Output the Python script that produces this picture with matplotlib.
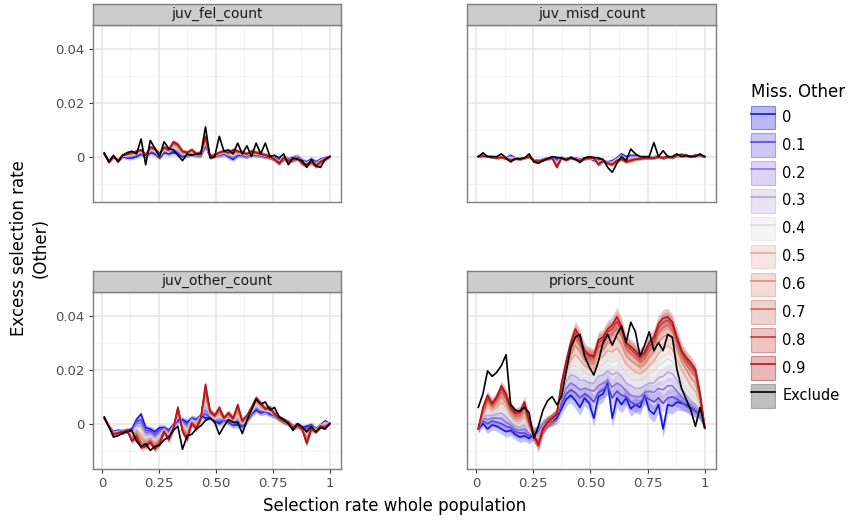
import numpy as np
import matplotlib.pyplot as plt
from matplotlib.patches import Patch
from matplotlib.lines import Line2D
from matplotlib.colors import to_rgba

# x grid: selection rate of whole population
sel_rate = np.linspace(0.01, 1.0, 50)

levels = ['0', '0.1', '0.2', '0.3', '0.4', '0.5', '0.6', '0.7', '0.8', '0.9', 'Exclude']
facets = ['juv_fel_count', 'juv_misd_count', 'juv_other_count', 'priors_count']

# all values below are excess selection rate in units of 1e-4

# --- juv_fel_count ---
fel_0 = [10, -15, 0, -15, 0, -5, -5, 0, 10, 0, 15, 10, -5, 15, 10, 15, 10, 0, 5, 10,
         5, 5, 40, 0, 5, 5, 10, 0, -10, 5, 5, 0, 10, 5, 5, 0, 0, -5, -15, -5,
         -10, -5, 0, -15, -20, -10, -20, -10, -5, 0]
fel_1 = [10, -16, 1, -14, 2, -2, -1, 4, 13, 2, 19, 14, -2, 19, 13, 22, 15, 3, 7, 12,
         5, 7, 45, 1, 5, 7, 12, 3, -6, 8, 6, 2, 12, 6, 6, 1, 0, -6, -17, -4,
         -11, -6, -1, -17, -22, -12, -23, -12, -6, 0]
fel_2 = [10, -17, 0, -15, 2, 0, 2, 6, 15, 2, 21, 17, 0, 22, 15, 27, 20, 6, 8, 14,
         6, 8, 50, 0, 6, 8, 13, 5, -2, 10, 8, 3, 13, 8, 7, 2, 1, -7, -18, -5,
         -12, -7, -1, -18, -23, -13, -25, -13, -7, 0]
fel_3 = [10, -17, 1, -15, 3, 2, 4, 9, 17, 3, 24, 19, 2, 24, 17, 32, 25, 8, 9, 16,
         7, 9, 54, 1, 5, 9, 14, 7, 2, 12, 9, 4, 14, 9, 8, 3, 1, -7, -19, -5,
         -12, -8, -2, -19, -24, -14, -27, -14, -7, 0]
fel_4 = [10, -18, 0, -15, 3, 4, 6, 11, 19, 3, 26, 21, 4, 26, 19, 36, 29, 11, 10, 18,
         8, 10, 58, 0, 6, 10, 15, 9, 6, 14, 10, 5, 15, 10, 8, 3, 1, -8, -20, -5,
         -13, -8, -2, -20, -25, -15, -28, -15, -8, 0]
fel_5 = [10, -18, 1, -15, 4, 5, 8, 13, 21, 4, 28, 23, 6, 28, 20, 41, 33, 13, 11, 20,
         8, 11, 62, 1, 5, 11, 16, 10, 10, 15, 11, 6, 16, 11, 9, 3, 1, -8, -21, -5,
         -13, -8, -3, -21, -26, -16, -30, -16, -8, 0]
fel_6 = [10, -19, 0, -15, 4, 7, 10, 15, 22, 4, 30, 25, 7, 30, 22, 45, 37, 15, 12, 21,
         9, 12, 66, 0, 5, 12, 17, 12, 14, 17, 12, 7, 17, 12, 9, 4, 0, -9, -22, -5,
         -14, -9, -3, -22, -27, -17, -31, -17, -9, 0]
fel_7 = [10, -19, 0, -15, 5, 8, 12, 17, 23, 5, 32, 27, 8, 32, 23, 49, 40, 17, 13, 23,
         9, 13, 70, 0, 5, 13, 18, 13, 18, 18, 13, 8, 18, 13, 10, 4, 0, -9, -23, -5,
         -14, -9, -4, -23, -28, -18, -33, -18, -9, 0]
fel_8 = [10, -20, 0, -15, 5, 9, 14, 18, 24, 5, 34, 28, 9, 34, 24, 52, 43, 18, 14, 24,
         10, 14, 72, 0, 5, 14, 19, 14, 22, 19, 14, 9, 19, 14, 10, 5, 0, -10, -24, -5,
         -15, -10, -4, -24, -29, -19, -34, -19, -10, 0]
fel_9 = [10, -20, 0, -15, 5, 10, 15, 20, 25, 5, 35, 30, 10, 35, 25, 55, 45, 20, 15, 25,
         10, 15, 75, 0, 5, 15, 20, 15, 25, 20, 15, 10, 20, 15, 10, 5, 0, -10, -25, -5,
         -15, -10, -5, -25, -30, -20, -35, -20, -10, 0]
fel_ex = [14, -20, 5, -20, 5, 15, 20, 10, 65, -30, 60, 30, 0, 55, 30, 25, 5, -15, 10, 5,
          10, 10, 110, -5, 0, 75, 20, 25, 10, 50, 10, 40, 0, 50, 10, 50, 0, 5, -5, 10,
          -30, -5, -10, -15, -40, -10, -35, -40, -10, 0]
se_fel = [5, 6, 6, 6, 6, 7, 7, 7, 8, 8, 8, 8, 8, 8, 8, 9, 9, 9, 9, 9,
          9, 9, 10, 9, 9, 9, 9, 9, 9, 9, 9, 9, 9, 9, 9, 9, 9, 9, 9, 9,
          10, 10, 10, 10, 10, 10, 9, 8, 7, 5]

# --- juv_misd_count ---
misd_0 = [0, 5, 0, 0, -3, 0, -5, 5, -5, -8, -5, 0, -12, -15, -10, -5, -3, -10, -3, -8,
          -3, -5, -10, -5, -3, -15, -10, -15, -20, -15, -5, 10, 0, 5, 3, 0, -3, -3, 0, 0,
          -3, 0, -3, 3, 3, 3, 0, 3, 3, 0]
misd_1 = [0, 4, 0, -1, -3, -1, -5, 2, -6, -8, -5, 0, -13, -16, -10, -6, -3, -14, -4, -9,
          -3, -6, -11, -6, -4, -13, -13, -15, -21, -17, -7, 7, -3, 2, 1, -1, -3, -4, -1, 0,
          -4, 0, -3, 3, 4, 3, 0, 3, 3, 0]
misd_2 = [0, 4, 0, -1, -4, -1, -6, 0, -6, -9, -5, 0, -13, -16, -11, -6, -4, -18, -4, -9,
          -4, -7, -12, -6, -4, -12, -16, -15, -22, -19, -8, 5, -5, 0, -1, -2, -4, -4, -2, 0,
          -4, 0, -3, 4, 5, 4, 0, 4, 4, 0]
misd_3 = [0, 3, 0, -1, -4, -1, -6, -2, -7, -9, -5, 0, -14, -17, -11, -7, -4, -22, -4, -10,
          -4, -7, -12, -7, -4, -10, -18, -15, -23, -21, -9, 2, -8, -3, -3, -4, -4, -4, -3, 0,
          -4, 0, -3, 4, 5, 4, 0, 4, 4, 0]
misd_4 = [0, 3, 0, -2, -4, -2, -7, -5, -7, -9, -5, 0, -14, -17, -11, -7, -4, -26, -4, -10,
          -4, -8, -13, -7, -4, -9, -21, -15, -23, -23, -10, 0, -10, -6, -4, -5, -4, -4, -3, 0,
          -4, 0, -3, 4, 6, 4, 0, 4, 4, 0]
misd_5 = [0, 3, 0, -2, -4, -2, -7, -8, -7, -9, -5, 0, -14, -17, -11, -7, -4, -29, -4, -11,
          -4, -8, -13, -7, -4, -8, -23, -15, -24, -25, -11, -3, -13, -8, -6, -6, -4, -4, -4, 0,
          -4, 0, -3, 4, 6, 4, 0, 4, 4, 0]
misd_6 = [0, 2, 0, -2, -5, -2, -7, -10, -8, -10, -5, 0, -15, -18, -12, -8, -5, -33, -5, -11,
          -5, -9, -14, -8, -5, -7, -25, -15, -24, -27, -13, -5, -15, -11, -7, -7, -5, -5, -4, 0,
          -5, 0, -3, 5, 7, 5, 0, 5, 5, 0]
misd_7 = [0, 2, 0, -3, -5, -3, -8, -12, -8, -10, -5, 0, -15, -18, -12, -8, -5, -36, -5, -12,
          -5, -9, -14, -8, -5, -6, -27, -15, -25, -28, -14, -7, -17, -13, -9, -7, -5, -5, -5, 0,
          -5, 0, -3, 5, 7, 5, 0, 5, 5, 0]
misd_8 = [0, 2, 0, -3, -5, -3, -8, -14, -8, -10, -5, 0, -15, -18, -12, -8, -5, -38, -5, -12,
          -5, -10, -15, -8, -5, -5, -29, -15, -25, -29, -15, -9, -19, -14, -10, -8, -5, -5, -5, 0,
          -5, 0, -3, 5, 8, 5, 0, 5, 5, 0]
misd_9 = [0, 2, 0, -3, -5, -3, -8, -15, -8, -10, -5, 0, -15, -18, -12, -8, -5, -40, -5, -12,
          -5, -10, -15, -8, -5, -5, -30, -15, -25, -30, -15, -10, -20, -15, -10, -8, -5, -5, -5, 0,
          -5, 0, -3, 5, 8, 5, 0, 5, 5, 0]
misd_ex = [0, 14, 0, 0, 0, 10, -5, -20, -8, -8, -5, 10, -20, -25, -15, -8, 0, -3, -5, -12,
           -3, -10, -22, -5, 0, -3, -5, -10, -40, -58, -25, 0, -15, 28, 10, 0, 0, 0, 52, 0,
           22, 0, 0, 10, 0, 3, 0, 0, 10, 0]
se_misd = [3, 3, 3, 4, 4, 4, 4, 4, 4, 4, 4, 4, 5, 5, 5, 5, 5, 5, 5, 5,
           5, 5, 5, 5, 5, 5, 6, 6, 6, 6, 6, 6, 6, 6, 5, 5, 5, 5, 5, 5,
           5, 5, 5, 5, 5, 5, 4, 4, 4, 3]

# --- juv_other_count ---
other_0 = [20, -10, -30, -25, -30, -25, -20, 15, 35, -15, -20, -30, -15, -15, -25, -5, 10, 15, 5, 20,
           15, 30, 20, 25, 10, 0, 15, 5, -5, -5, -10, 10, 35, 50, 40, 45, 35, 30, 20, 10,
           0, -10, -5, -15, -10, -5, -20, -5, 10, 0]
other_1 = [20, -10, -32, -27, -30, -25, -26, 7, 14, -25, -27, -39, -24, -17, -30, -8, 17, 10, -3, 18,
           11, 29, 35, 27, 13, 7, 16, 9, -2, 4, -7, 13, 38, 56, 44, 46, 39, 31, 20, 10,
           1, -11, -5, -16, -18, -7, -21, -6, 7, 0]
other_2 = [20, -10, -33, -28, -30, -25, -32, 0, 2, -35, -33, -47, -32, -19, -35, -10, 24, 5, -10, 16,
           8, 28, 50, 29, 15, 13, 17, 13, 1, 13, -4, 15, 41, 60, 48, 47, 42, 32, 20, 10,
           1, -12, -5, -17, -25, -9, -22, -7, 5, 0]
other_3 = [20, -10, -34, -29, -30, -25, -38, -8, -10, -45, -40, -55, -40, -21, -40, -12, 30, 0, -18, 14,
           5, 27, 65, 31, 18, 20, 17, 17, 4, 22, -1, 17, 44, 65, 52, 48, 45, 32, 20, 10,
           2, -12, -5, -17, -32, -11, -23, -7, 3, 0]
other_4 = [20, -10, -35, -30, -30, -25, -44, -15, -22, -55, -46, -62, -47, -23, -44, -13, 36, -5, -25, 12,
           2, 26, 80, 33, 20, 27, 18, 21, 7, 31, 1, 19, 47, 70, 56, 49, 48, 33, 20, 10,
           2, -13, -5, -18, -40, -13, -25, -8, 0, 0]
other_5 = [20, -10, -36, -31, -30, -25, -50, -22, -40, -62, -52, -70, -54, -25, -48, -15, 42, -10, -32, 9,
           -1, 25, 95, 35, 22, 35, 18, 25, 10, 40, 3, 22, 50, 75, 60, 50, 51, 33, 20, 10,
           3, -13, -5, -18, -48, -15, -26, -8, -3, 0]
other_6 = [20, -10, -37, -32, -30, -25, -55, -30, -55, -68, -58, -78, -61, -27, -52, -17, 48, -16, -40, 6,
           -6, 24, 110, 38, 25, 42, 19, 30, 13, 49, 5, 24, 53, 82, 65, 51, 54, 34, 20, 10,
           3, -14, -5, -19, -56, -16, -27, -9, -6, 0]
other_7 = [20, -10, -38, -33, -30, -25, -59, -38, -70, -75, -63, -85, -67, -28, -55, -18, 53, -22, -48, 4,
           -12, 23, 122, 40, 27, 50, 19, 34, 16, 58, 7, 26, 56, 88, 70, 53, 56, 34, 20, 10,
           4, -14, -5, -19, -64, -18, -28, -9, -10, 0]
other_8 = [20, -10, -39, -34, -30, -25, -62, -44, -82, -80, -67, -90, -71, -29, -58, -19, 57, -26, -55, 2,
           -16, 21, 135, 43, 29, 55, 20, 37, 18, 64, 9, 28, 58, 92, 72, 54, 58, 35, 20, 10,
           5, -15, -5, -20, -70, -19, -29, -10, -13, 0]
other_9 = [20, -10, -40, -35, -30, -25, -65, -50, -90, -85, -70, -95, -75, -30, -60, -20, 60, -30, -60, 0,
           -20, 20, 145, 45, 30, 60, 20, 40, 20, 70, 10, 30, 60, 95, 75, 55, 60, 35, 20, 10,
           5, -15, -5, -20, -75, -20, -30, -10, -15, 0]
other_ex = [25, -12, -50, -45, -35, -30, -25, -65, -85, -75, -99, -85, -80, -60, -50, -25, -10, -95, -45, -40,
            -20, -8, 12, 20, 5, -40, -10, 15, 5, 5, -37, 12, 50, 90, 72, 80, 50, 60, 25, 15,
            0, -25, 0, -12, -31, -10, -31, -15, -20, 0]
se_other = [6, 7, 8, 8, 9, 9, 10, 10, 11, 11, 11, 12, 12, 12, 12, 12, 12, 12, 12, 12,
            12, 12, 13, 12, 12, 12, 12, 12, 12, 12, 12, 12, 12, 12, 12, 11, 11, 11, 11, 11,
            10, 10, 10, 10, 10, 10, 9, 8, 7, 5]

# --- priors_count ---
priors_0 = [-20, 0, -20, -5, -10, -20, -30, -25, -40, -50, -45, -55, -40, -30, -10, 5, 10, 20, 55, 90,
            105, 85, 60, 95, 75, 20, 100, 110, 150, 20, 95, 70, 95, 55, 70, 60, 105, 50, 35, 70,
            -20, 70, 65, 80, 75, 70, 60, 45, 40, -10]
priors_1 = [-15, 10, 0, 10, 5, 0, -10, -15, -30, -35, -35, -45, -35, -30, -5, 10, 15, 30, 75, 110,
            125, 115, 95, 110, 100, 80, 115, 125, 140, 95, 120, 105, 100, 80, 70, 75, 100, 90, 80, 95,
            75, 95, 100, 90, 80, 65, 55, 45, 30, -10]
priors_2 = [-15, 20, 15, 20, 20, 20, 5, -5, -20, -25, -20, -35, -35, -35, -5, 10, 15, 35, 90, 130,
            150, 140, 125, 130, 125, 120, 140, 150, 160, 135, 150, 140, 120, 105, 100, 100, 115, 120, 115, 130,
            125, 140, 140, 120, 100, 80, 65, 55, 35, -10]
priors_3 = [-15, 25, 30, 30, 35, 40, 25, 5, -10, -15, -5, -30, -40, -45, -10, 5, 15, 35, 105, 155,
            180, 175, 160, 160, 150, 150, 175, 180, 195, 180, 190, 175, 150, 140, 130, 130, 140, 150, 150, 170,
            175, 190, 185, 160, 130, 105, 85, 70, 45, -10]
priors_4 = [-15, 30, 45, 40, 50, 60, 45, 20, 0, -5, 10, -25, -45, -55, -15, 5, 15, 35, 115, 175,
            210, 215, 200, 190, 180, 180, 210, 215, 235, 225, 235, 215, 185, 170, 160, 160, 170, 185, 190, 215,
            225, 240, 230, 200, 165, 135, 110, 95, 60, -12]
priors_5 = [-15, 35, 60, 50, 60, 80, 60, 30, 10, 10, 25, -15, -50, -60, -15, 5, 15, 35, 125, 190,
            235, 255, 235, 215, 205, 205, 240, 250, 270, 265, 280, 255, 220, 205, 190, 185, 195, 215, 230, 260,
            275, 290, 275, 240, 200, 170, 140, 120, 75, -12]
priors_6 = [-18, 40, 75, 60, 75, 100, 75, 40, 20, 20, 45, -5, -50, -65, -15, 5, 15, 35, 135, 205,
            255, 290, 265, 235, 225, 225, 265, 275, 300, 300, 320, 295, 250, 235, 220, 210, 220, 245, 265, 300,
            320, 330, 315, 275, 230, 200, 170, 150, 90, -14]
priors_7 = [-18, 45, 85, 65, 85, 115, 90, 50, 30, 30, 60, 0, -45, -70, -15, 5, 18, 35, 140, 215,
            275, 315, 290, 250, 240, 240, 285, 295, 325, 330, 355, 325, 275, 260, 245, 230, 240, 270, 290, 335,
            355, 365, 345, 295, 250, 220, 195, 175, 100, -15]
priors_8 = [-20, 55, 95, 70, 95, 130, 100, 55, 35, 40, 70, 5, -42, -75, -18, 5, 20, 35, 145, 222,
            290, 335, 305, 260, 248, 245, 300, 310, 340, 350, 378, 345, 290, 275, 258, 240, 255, 285, 305, 355,
            375, 382, 362, 310, 262, 235, 212, 190, 105, -15]
priors_9 = [-20, 60, 105, 75, 100, 140, 110, 60, 40, 45, 80, 10, -40, -80, -20, 5, 20, 35, 150, 230,
            300, 350, 320, 270, 255, 250, 310, 320, 350, 365, 395, 360, 300, 285, 270, 250, 265, 300, 320, 370,
            390, 395, 375, 320, 270, 245, 225, 200, 110, -15]
priors_ex = [60, 110, 195, 175, 190, 215, 255, 70, 50, 45, 60, 40, -55, -10, 50, 85, 100, 70, 100, 190,
             280, 320, 330, 250, 210, 180, 230, 300, 330, 290, 330, 360, 300, 375, 340, 250, 290, 340, 270, 300,
             270, 330, 320, 200, 130, 90, 50, -10, 60, -15]
se_priors = [15, 15, 18, 18, 18, 20, 20, 20, 20, 20, 20, 20, 22, 25, 22, 20, 20, 20, 22, 25,
             28, 30, 30, 28, 28, 28, 30, 30, 32, 32, 35, 32, 30, 28, 28, 28, 28, 30, 30, 30,
             32, 32, 30, 30, 28, 25, 25, 22, 20, 12]

panel_series = {
    'juv_fel_count': [fel_0, fel_1, fel_2, fel_3, fel_4, fel_5, fel_6, fel_7, fel_8, fel_9, fel_ex],
    'juv_misd_count': [misd_0, misd_1, misd_2, misd_3, misd_4, misd_5, misd_6, misd_7, misd_8, misd_9, misd_ex],
    'juv_other_count': [other_0, other_1, other_2, other_3, other_4, other_5, other_6, other_7, other_8, other_9, other_ex],
    'priors_count': [priors_0, priors_1, priors_2, priors_3, priors_4, priors_5, priors_6, priors_7, priors_8, priors_9, priors_ex],
}
panel_se = {'juv_fel_count': se_fel, 'juv_misd_count': se_misd,
            'juv_other_count': se_other, 'priors_count': se_priors}

colors = ['#1414e6', '#5a46e0', '#8c74de', '#b4a8d8', '#dcdcdc',
          '#e2aca2', '#d98b7c', '#d06a5a', '#c63c32', '#b3141e', '#000000']

W, H = 853, 523
fig = plt.figure(figsize=(W / 100, H / 100), dpi=100)

# panel boxes in pixels: left, top, right, bottom
boxes = [(93, 25, 341, 202), (467, 25, 716, 202), (93, 292, 341, 469), (467, 292, 716, 469)]
strip_h = 21.5

for k, name in enumerate(facets):
    x0, y0, x1, y1 = boxes[k]
    ax = fig.add_axes([x0 / W, 1 - y1 / H, (x1 - x0) / W, (y1 - y0) / H])
    series = panel_series[name]
    se = np.array(panel_se[name]) / 1e4
    # ribbons first
    for i in range(10):
        y = np.array(series[i]) / 1e4
        ax.fill_between(sel_rate, y - se, y + se, color=colors[i], alpha=0.25, lw=0)
    # then lines
    for i in range(11):
        y = np.array(series[i]) / 1e4
        ax.plot(sel_rate, y, color=colors[i], lw=1.2)

    ax.set_xlim(0.01 - 0.0495, 1.0 + 0.0495)
    ax.set_ylim(-0.0168, 0.0487)
    ax.set_xticks([0, 0.25, 0.5, 0.75, 1])
    ax.set_xticklabels(['0', '0.25', '0.50', '0.75', '1'])
    ax.set_xticks([0.125, 0.375, 0.625, 0.875], minor=True)
    ax.set_yticks([0, 0.02, 0.04])
    ax.set_yticklabels(['0', '0.02', '0.04'])
    ax.set_yticks([-0.01, 0.01, 0.03], minor=True)
    ax.set_axisbelow(True)
    ax.grid(which='major', color='#e6e6e6', lw=1.1)
    ax.grid(which='minor', color='#f0f0f0', lw=0.6)
    ax.tick_params(which='minor', length=0)
    ax.tick_params(which='major', length=3, width=0.8, color='#333333',
                   labelcolor='#4d4d4d', labelsize=9.5, pad=3)
    for sp in ax.spines.values():
        sp.set_color('#7f7f7f')
        sp.set_linewidth(1.0)
    if k < 2:
        ax.tick_params(axis='x', which='major', length=0, labelbottom=False)
    if k % 2 == 1:
        ax.tick_params(axis='y', which='major', length=0, labelleft=False)

    # facet strip
    sax = fig.add_axes([x0 / W, 1 - y0 / H, (x1 - x0) / W, strip_h / H])
    sax.set_facecolor('#cccccc')
    sax.set_xticks([])
    sax.set_yticks([])
    for sp in sax.spines.values():
        sp.set_color('#7f7f7f')
        sp.set_linewidth(1.0)
    sax.text(0.5, 0.5, name, ha='center', va='center', fontsize=10, color='#1a1a1a',
             transform=sax.transAxes)

fig.text(0.035, 0.525, 'Excess selection rate\n(Other)', rotation=90, ha='center',
         va='center', fontsize=12, multialignment='center')
fig.text(0.4625, 0.032, 'Selection rate whole population', ha='center', va='center',
         fontsize=12)

handles = []
for i in range(11):
    base = colors[i] if i < 10 else '#606060'
    fill = Patch(facecolor=to_rgba(base, 0.3 if i < 10 else 0.4),
                 edgecolor=to_rgba(base, 0.45), lw=0.8)
    line = Line2D([], [], color=colors[i], lw=1.2)
    handles.append((fill, line))

leg = fig.legend(handles, levels, loc='upper left', bbox_to_anchor=(0.872, 0.855),
                 frameon=False, fontsize=10.5, title='Miss. Other', title_fontsize=12,
                 handlelength=1.65, handleheight=2.1, labelspacing=0.3,
                 handletextpad=0.5, borderpad=0.0)
leg._legend_box.align = 'left'

fig.savefig('out.png', dpi=100)
